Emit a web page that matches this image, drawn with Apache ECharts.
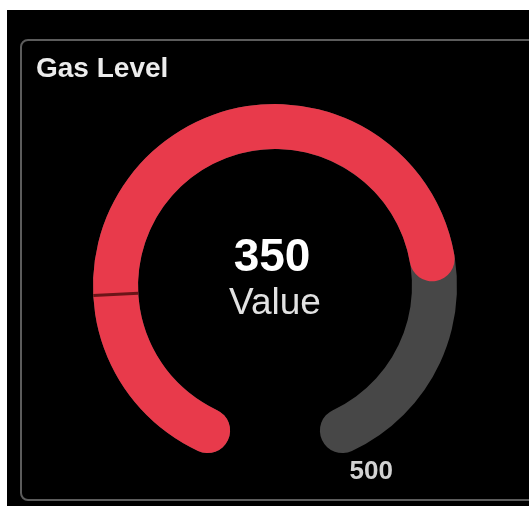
<!DOCTYPE html>
<html>
<head>
<meta charset="utf-8">
<script src="https://cdn.jsdelivr.net/npm/echarts@6/dist/echarts.min.js"></script>
<style>
html,body{margin:0;padding:0;background:#fff;}
#chart{width:529px;height:506px;}
</style>
</head>
<body>
<div id="chart"></div>
<script>
// ---- data ----
const chartTitle = 'Gas Level';
const valueName = 'Value';
const gaugeValue = 350;
const gaugeMin = 0;
const gaugeMax = 500;
const thresholdValue = 100;

const chart = echarts.init(document.getElementById('chart'), null, {renderer: 'canvas'});

const CX = 275, CY = 286, R = 182, BAND = 45;
const RED = '#e83a4b', GRAY = '#474747';

const option = {
  animation: false,
  backgroundColor: '#ffffff',
  title: {
    text: chartTitle,
    left: 36, top: 55, padding: 0,
    textStyle: {color: '#ececec', fontSize: 28, fontWeight: 'bold', fontFamily: 'Liberation Sans, Arial, sans-serif'}
  },
  graphic: [
    {type: 'rect', z: -10, shape: {x: 7, y: 10, width: 530, height: 500}, style: {fill: '#000'}},
    {type: 'rect', z: -9, shape: {x: 21, y: 40, width: 530, height: 460, r: 7}, style: {fill: 'none', stroke: '#5c5c5c', lineWidth: 2}}
  ],
  series: [
    {
      type: 'gauge', z: 2,
      center: [CX, CY], radius: R,
      startAngle: 245, endAngle: -65,
      min: gaugeMin, max: gaugeMax, splitNumber: 5,
      axisLine: {show: true, roundCap: true, lineStyle: {width: BAND, color: [[1, GRAY]]}},
      progress: {show: false},
      pointer: {show: false},
      axisTick: {show: false},
      splitLine: {show: false, length: 0, distance: 0},
      axisLabel: {
        show: true,
        distance: -97,
        padding: [0, 0, 54, 0],
        color: '#d2d2d2', fontSize: 26, fontWeight: 'bold',
        fontFamily: 'Liberation Sans, Arial, sans-serif',
        formatter: v => (v === gaugeMax ? String(v) : '')
      },
      title: {show: false}, detail: {show: false},
      data: []
    },
    {
      type: 'gauge', z: 3,
      center: [CX, CY], radius: R,
      startAngle: 245, endAngle: -91,
      min: gaugeMin, max: gaugeMax,
      axisLine: {show: false},
      progress: {show: true, roundCap: true, width: BAND, itemStyle: {color: RED}},
      pointer: {show: false},
      axisTick: {show: false},
      splitLine: {show: false},
      axisLabel: {show: false},
      title: {
        show: true, offsetCenter: [0, 18],
        color: '#e2e2e2', fontSize: 37,
        fontFamily: 'Liberation Sans, Arial, sans-serif'
      },
      detail: {
        show: true, offsetCenter: [-3, -28],
        color: '#ffffff', fontSize: 46, fontWeight: 'bold',
        fontFamily: 'Liberation Sans, Arial, sans-serif',
        formatter: '{value}'
      },
      data: [{value: gaugeValue, name: valueName}]
    },
    {
      type: 'gauge', z: 10,
      center: [CX, CY], radius: R,
      startAngle: 245, endAngle: -65,
      min: gaugeMin, max: gaugeMax,
      axisLine: {show: false},
      progress: {show: false},
      pointer: {show: true, showAbove: true, icon: 'rect', length: BAND, width: 3, offsetCenter: [0, -(R - BAND)], itemStyle: {color: '#6a1518'}},
      anchor: {show: false},
      axisTick: {show: false},
      splitLine: {show: false},
      axisLabel: {show: false},
      title: {show: false}, detail: {show: false},
      data: [{value: thresholdValue, name: 'threshold'}]
    }
  ]
};
chart.setOption(option);
</script>
</body>
</html>
